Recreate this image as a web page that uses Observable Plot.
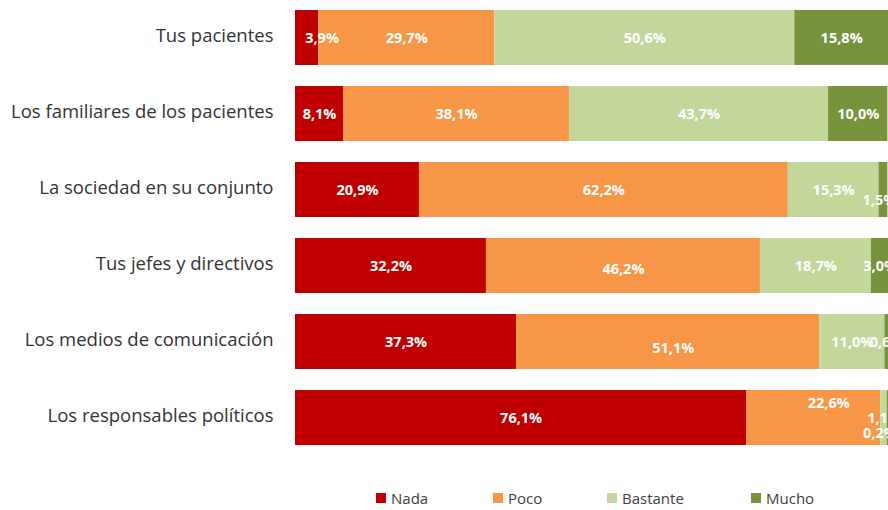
<!DOCTYPE html>
<html>
<head>
<meta charset="utf-8">
<script src="https://cdn.jsdelivr.net/npm/d3@7"></script>
<script src="https://cdn.jsdelivr.net/npm/@observablehq/plot@0.6"></script>
<style>
  body { margin: 0; background: #fff; font-family: "Open Sans", sans-serif; }
  #wrap { position: relative; width: 888px; height: 510px; overflow: hidden; }
  #legend { position: absolute; top: 488px; left: 0; width: 888px; height: 24px; }
  .item { position: absolute; top: 0; display: flex; align-items: center; font-size: 15px; color: #404040; }
  .sw { width: 10px; height: 10px; margin-right: 5px; }
</style>
</head>
<body>
<div id="wrap">
  <div id="chart"></div>
  <div id="legend"></div>
</div>
<script>
const categories = [
  "Tus pacientes",
  "Los familiares de los pacientes",
  "La sociedad en su conjunto",
  "Tus jefes y directivos",
  "Los medios de comunicación",
  "Los responsables políticos"
];
const series = ["Nada", "Poco", "Bastante", "Mucho"];
const colors = ["#C00000", "#F79646", "#C4D79B", "#77933C"];
const nada     = [3.9, 8.1, 20.9, 32.2, 37.3, 76.1];
const poco     = [29.7, 38.1, 62.2, 46.2, 51.1, 22.6];
const bastante = [50.6, 43.7, 15.3, 18.7, 11.0, 1.1];
const mucho    = [15.8, 10.0, 1.5, 3.0, 0.6, 0.2];

// label nudges (pixels) for crowded labels
const shifts = {
  "Tus pacientes|Nada": [15, 0],
  "La sociedad en su conjunto|Mucho": [-4, 10],
  "Tus jefes y directivos|Poco": [0, 3],
  "Los medios de comunicación|Poco": [5, 6],
  "Los responsables políticos|Poco": [15, -15],
  "Los responsables políticos|Mucho": [-8, 15]
};

const seriesValues = [nada, poco, bastante, mucho];
const rows = [];
categories.forEach((c, i) => {
  let acc = 0;
  series.forEach((s, j) => {
    const v = seriesValues[j][i];
    rows.push({category: c, series: s, value: v, x1: acc, x2: acc + v, mid: acc + v / 2});
    acc += v;
  });
});
const fmt = v => d3.format(".1f")(v).replace(".", ",") + "%";
const labelFont = 14.5;

const marks = [
  Plot.barX(rows, {x1: "x1", x2: "x2", y: "category", fill: "series"})
];
const defaults = rows.filter(r => !shifts[r.category + "|" + r.series]);
marks.push(Plot.text(defaults, {
  x: "mid", y: "category", text: d => fmt(d.value),
  fill: "white", fontWeight: "bold", fontSize: labelFont
}));
for (const [key, [dx, dy]] of Object.entries(shifts)) {
  const sub = rows.filter(r => r.category + "|" + r.series === key);
  marks.push(Plot.text(sub, {
    x: "mid", y: "category", text: d => fmt(d.value),
    fill: "white", fontWeight: "bold", fontSize: labelFont, dx, dy
  }));
}

const chart = Plot.plot({
  width: 888,
  height: 455,
  marginLeft: 295,
  marginRight: 0,
  marginTop: 0,
  marginBottom: 0,
  style: {fontFamily: "'Open Sans', sans-serif", background: "white", overflow: "hidden"},
  x: {domain: [0, 100], axis: null},
  y: {domain: categories, paddingInner: 0.276, paddingOuter: 0.13, label: null},
  color: {domain: series, range: colors},
  marks: [
    ...marks,
    Plot.axisY({tickSize: 0, tickPadding: 22, fontSize: 18.5, color: "#333", label: null, dy: -2})
  ]
});
document.getElementById("chart").appendChild(chart);

const legendPos = [376, 493, 607, 751];
const legend = document.getElementById("legend");
series.forEach((s, i) => {
  const it = document.createElement("div");
  it.className = "item";
  it.style.left = legendPos[i] + "px";
  it.innerHTML = `<span class="sw" style="background:${colors[i]}"></span><span>${s}</span>`;
  legend.appendChild(it);
});
</script>
</body>
</html>
